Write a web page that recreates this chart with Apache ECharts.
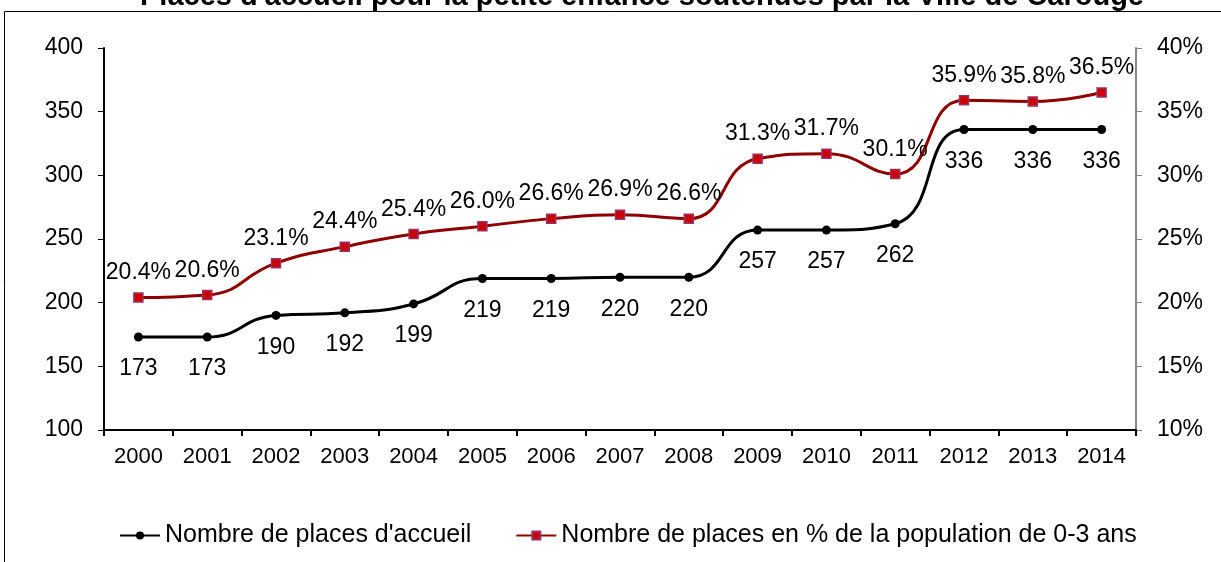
<!DOCTYPE html>
<html>
<head>
<meta charset="utf-8">
<script src="https://cdn.jsdelivr.net/npm/echarts@6/dist/echarts.min.js"></script>
<style>
  html, body { margin: 0; padding: 0; background: #fff; }
  #chart { width: 1221px; height: 562px; }
</style>
</head>
<body>
<div id="chart"></div>
<script>
// données
var years = ['2000', '2001', '2002', '2003', '2004', '2005', '2006', '2007', '2008', '2009', '2010', '2011', '2012', '2013', '2014']
var places = [173, 173, 190, 192, 199, 219, 219, 220, 220, 257, 257, 262, 336, 336, 336]
var placesPct = [20.4, 20.6, 23.1, 24.4, 25.4, 26.0, 26.6, 26.9, 26.6, 31.3, 31.7, 30.1, 35.9, 35.8, 36.5]
var seriesNames = ["Nombre de places d'accueil", 'Nombre de places en % de la population de 0-3 ans']

var font = 'Liberation Sans, Arial, sans-serif'
var chart = echarts.init(document.getElementById('chart'))

var option = {
  animation: false,
  textStyle: { fontFamily: font, color: '#000' },
  title: {
    text: 'Places d\'accueil pour la petite enfance soutenues par la Ville de Carouge',
    left: 135,
    top: -23,
    textStyle: { fontFamily: font, fontSize: 29, fontWeight: 'bold', color: '#000' }
  },
  graphic: [{
    type: 'rect',
    shape: { x: 4.5, y: 11.5, width: 1400, height: 700 },
    style: { fill: 'none', stroke: '#000', lineWidth: 1 },
    silent: true
  }],
  legend: {
    top: 518,
    left: 114,
    itemWidth: 40,
    itemHeight: 10,
    itemGap: 44,
    textStyle: { fontFamily: font, fontSize: 25, color: '#000' },
    data: seriesNames
  },
  grid: { left: 104, right: 85, top: 48, bottom: 132 },
  xAxis: {
    type: 'category',
    data: years,
    boundaryGap: true,
    axisLine: { lineStyle: { color: '#000', width: 2 } },
    axisTick: { show: true, length: 6, lineStyle: { color: '#000', width: 2 } },
    axisLabel: { fontFamily: font, fontSize: 22, color: '#000', margin: 16 },
    splitLine: { show: false }
  },
  yAxis: [{
    type: 'value',
    min: 100,
    max: 400,
    interval: 50,
    axisLine: { show: true, lineStyle: { color: '#000', width: 2 } },
    axisTick: { show: true, length: 6, lineStyle: { color: '#000', width: 1 } },
    axisLabel: { fontFamily: font, fontSize: 23, color: '#000', margin: 21 },
    splitLine: { show: false }
  }, {
    type: 'value',
    min: 10,
    max: 40,
    interval: 5,
    position: 'right',
    axisLine: { show: true, lineStyle: { color: '#868686', width: 2 } },
    axisTick: { show: true, length: 6, lineStyle: { color: '#868686', width: 1 } },
    axisLabel: { fontFamily: font, fontSize: 23, color: '#000', margin: 21, formatter: '{value}%' },
    splitLine: { show: false }
  }],
  series: [{
    name: seriesNames[0],
    type: 'line',
    yAxisIndex: 0,
    data: places,
    smooth: 0.5,
    symbol: 'circle',
    symbolSize: 9,
    lineStyle: { color: '#000', width: 3 },
    itemStyle: { color: '#000' },
    label: {
      show: true,
      position: 'bottom',
      distance: 16,
      fontFamily: font,
      fontSize: 23,
      color: '#000'
    }
  }, {
    name: seriesNames[1],
    type: 'line',
    yAxisIndex: 1,
    data: placesPct,
    smooth: 0.5,
    symbol: 'rect',
    symbolSize: 9,
    lineStyle: { color: '#8E0000', width: 3 },
    itemStyle: { color: '#CC0000', borderColor: '#993366', borderWidth: 1.5 },
    label: {
      show: true,
      position: 'top',
      distance: 8,
      fontFamily: font,
      fontSize: 23,
      color: '#000',
      formatter: function(p) { return p.value.toFixed(1) + '%' }
    }
  }]
}

chart.setOption(option)
</script>
</body>
</html>
